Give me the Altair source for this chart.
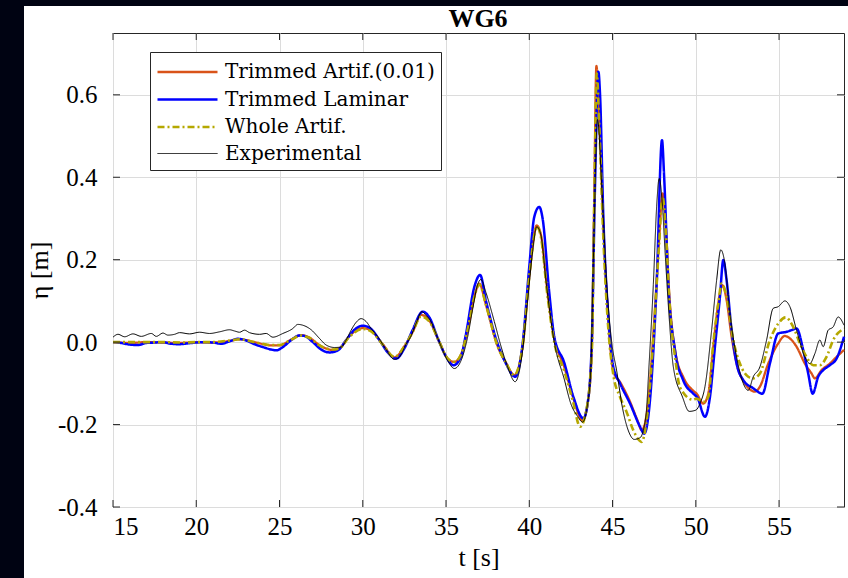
import altair as alt
import pandas as pd

# ---------------- data ----------------
series_names = ["Trimmed Artif.(0.01)", "Trimmed Laminar", "Whole Artif.", "Experimental"]
series_colors = ["#D95319", "#0000FF", "#B5A800", "#000000"]
series_dash = [[1, 0], [1, 0], [7, 3, 2, 3], [1, 0]]
series_widths = [2.3, 2.5, 2.6, 1.0]

x_ticks = [15, 20, 25, 30, 35, 40, 45, 50, 55]
y_ticks = [-0.4, -0.2, 0.0, 0.2, 0.4, 0.6]
title_text = ["WG6"]

t_orange = [15.0, 16.0, 17.0, 18.0, 19.0, 20.0, 21.0, 22.0, 22.6, 23.5, 24.5, 25.0, 25.7, 26.3, 26.7,
            27.5, 28.2, 28.6, 29.2, 30.0, 30.5, 31.2, 31.9, 32.5, 33.0, 33.5, 34.0, 34.6, 35.1, 35.5,
            35.9, 36.3, 36.7, 37.0, 37.4, 38.1, 38.6, 39.1, 39.6, 40.0, 40.45, 40.7, 41.1, 41.5, 42.1,
            42.6, 43.2, 43.5, 43.75, 43.9, 44.03, 44.2, 44.45, 44.75, 45.05, 45.5, 46.0, 46.5, 46.75,
            47.1, 47.5, 47.8, 48.0, 48.2, 48.4, 48.8, 49.25, 49.85, 50.05, 50.45, 50.75, 51.05, 51.35,
            51.6, 51.85, 52.15, 52.45, 52.95, 53.55, 53.85, 54.35, 54.95, 55.35, 55.65, 56.05, 56.55,
            56.95, 57.15, 57.55, 58.05, 58.45, 58.9]
eta_orange = [0.0, -0.002, 0.0, -0.001, -0.002, 0.0, -0.001, 0.003, 0.007, 0.0, -0.008, -0.008, 0.006,
              0.017, 0.013, -0.010, -0.019, -0.015, 0.015, 0.034, 0.028, -0.005, -0.037, -0.010, 0.025,
              0.066, 0.052, 0.0, -0.040, -0.048, -0.030, 0.03, 0.11, 0.142, 0.09, -0.01, -0.05, -0.08,
              -0.01, 0.16, 0.283, 0.26, 0.12, 0.01, -0.06, -0.13, -0.19, -0.15, -0.02, 0.35, 0.67, 0.55,
              0.28, 0.05, -0.07, -0.10, -0.14, -0.19, -0.214, -0.16, 0.05, 0.25, 0.361, 0.28, 0.12, -0.03,
              -0.085, -0.118, -0.125, -0.149, -0.125, -0.011, 0.094, 0.138, 0.102, 0.013, -0.052, -0.10,
              -0.12, -0.108, -0.052, -0.003, 0.015, 0.009, -0.011, -0.052, -0.076, -0.088, -0.068, -0.052,
              -0.036, -0.019]

t_blue = [15.0, 15.5, 16.0, 16.5, 17.0, 17.5, 18.0, 18.5, 19.0, 19.5, 20.0, 20.5, 21.0, 21.5, 22.0, 22.5,
          23.0, 23.5, 24.0, 24.5, 24.8, 25.2, 25.7, 26.2, 26.5, 27.0, 27.5, 28.0, 28.5, 29.0, 29.5, 30.0,
          30.5, 31.0, 31.5, 32.0, 32.5, 33.0, 33.6, 34.0, 34.5, 35.0, 35.45, 35.9, 36.2, 36.7, 37.05, 37.4,
          38.1, 38.6, 39.15, 39.6, 40.0, 40.3, 40.6, 40.8, 41.2, 41.5, 42.1, 42.65, 43.25, 43.5, 43.75,
          43.95, 44.15, 44.25, 44.45, 44.75, 45.05, 45.45, 46.05, 46.65, 46.9, 47.25, 47.65, 47.97, 48.1,
          48.35, 48.75, 49.25, 49.85, 50.1, 50.55, 50.85, 51.15, 51.45, 51.65, 51.85, 52.15, 52.45, 52.85,
          53.45, 54.0, 54.45, 54.95, 55.45, 55.75, 56.05, 56.45, 56.75, 57.02, 57.35, 57.65, 58.05, 58.45,
          58.9]
eta_blue = [0.0, -0.002, -0.006, -0.007, -0.002, -0.001, 0.0, -0.004, -0.005, -0.003, -0.001, 0.0, -0.001,
            -0.004, 0.002, 0.008, 0.004, -0.005, -0.012, -0.018, -0.020, -0.012, 0.005, 0.016, 0.015, 0.0,
            -0.018, -0.025, -0.020, 0.005, 0.03, 0.040, 0.032, 0.005, -0.025, -0.040, -0.015, 0.030, 0.074,
            0.060, 0.010, -0.035, -0.056, -0.035, 0.02, 0.134, 0.163, 0.10, -0.004, -0.052, -0.084, -0.004,
            0.183, 0.304, 0.328, 0.30, 0.12, 0.013, -0.05, -0.133, -0.185, -0.15, -0.004, 0.385, 0.656, 0.60,
            0.30, 0.06, -0.06, -0.10, -0.149, -0.205, -0.222, -0.14, 0.142, 0.49, 0.40, 0.142, -0.02, -0.093,
            -0.125, -0.135, -0.181, -0.133, -0.011, 0.11, 0.199, 0.15, 0.029, -0.052, -0.092, -0.112, -0.125,
            -0.052, 0.021, 0.025, 0.029, 0.033, -0.019, -0.076, -0.125, -0.084, -0.068, -0.056, -0.04, 0.013]

t_olive = [15.0, 16.0, 17.0, 18.0, 19.0, 20.0, 21.0, 22.0, 22.6, 23.5, 24.5, 25.0, 25.7, 26.3, 26.7,
           27.5, 28.2, 28.6, 29.2, 30.0, 30.5, 31.2, 31.9, 32.5, 33.0, 33.5, 34.0, 34.6, 35.1, 35.5,
           35.9, 36.3, 36.7, 37.0, 37.4, 38.1, 38.6, 39.1, 39.6, 40.0, 40.45, 40.7, 41.1, 41.5, 42.1,
           42.6, 43.05, 43.4, 43.75, 43.9, 44.05, 44.2, 44.45, 44.75, 45.05, 45.45, 45.85, 46.25, 46.75,
           47.1, 47.5, 47.8, 48.0, 48.2, 48.4, 48.8, 49.05, 49.85, 50.05, 50.45, 50.75, 51.05, 51.35,
           51.55, 51.85, 52.25, 52.65, 53.15, 53.45, 53.85, 54.45, 54.95, 55.4, 55.85, 56.25, 56.65,
           57.05, 57.45, 57.85, 58.25, 58.9]
eta_olive = [0.0, 0.0, 0.0, 0.0, -0.001, 0.0, 0.0, 0.004, 0.007, 0.0, -0.007, -0.007, 0.006, 0.016, 0.012,
             -0.010, -0.018, -0.015, 0.013, 0.032, 0.026, -0.006, -0.036, -0.010, 0.025, 0.062, 0.050, 0.0,
             -0.040, -0.048, -0.030, 0.03, 0.11, 0.140, 0.09, -0.01, -0.05, -0.08, -0.01, 0.16, 0.280, 0.255,
             0.11, 0.0, -0.07, -0.14, -0.205, -0.17, -0.03, 0.33, 0.652, 0.53, 0.25, 0.03, -0.08, -0.133,
             -0.17, -0.214, -0.242, -0.17, 0.04, 0.24, 0.353, 0.27, 0.11, -0.05, -0.11, -0.14, -0.137,
             -0.145, -0.133, -0.003, 0.094, 0.142, 0.11, 0.005, -0.052, -0.084, -0.088, -0.076, 0.005,
             0.045, 0.060, 0.037, -0.003, -0.036, -0.056, -0.056, -0.036, 0.005, 0.033]

t_exp = [15.0, 15.3, 15.7, 16.2, 16.7, 17.3, 17.6, 18.0, 18.3, 18.7, 19.0, 19.6, 20.2, 20.8, 21.4, 22.0,
         22.3, 22.6, 22.9, 23.2, 23.8, 24.2, 24.6, 25.2, 25.8, 26.1, 26.4, 26.9, 27.4, 27.8, 28.3, 28.7,
         29.0, 29.3, 29.6, 29.9, 30.2, 30.5, 30.9, 31.4, 31.9, 32.2, 32.6, 32.9, 33.2, 33.55, 33.8, 34.1,
         34.4, 34.7, 35.1, 35.5, 35.9, 36.3, 36.6, 36.9, 37.1, 37.4, 37.9, 38.3, 38.7, 39.15, 39.6, 39.9,
         40.2, 40.45, 40.7, 41.0, 41.5, 42.1, 42.5, 42.9, 43.2, 43.5, 43.7, 43.85, 44.1, 44.35, 44.65,
         44.95, 45.25, 45.6, 46.0, 46.3, 46.65, 47.0, 47.2, 47.45, 47.65, 47.8, 48.0, 48.15, 48.4, 48.65,
         49.2, 49.6, 50.0, 50.25, 50.55, 50.95, 51.25, 51.5, 51.75, 52.05, 52.45, 52.85, 53.15, 53.45,
         53.85, 54.25, 54.65, 54.95, 55.35, 55.65, 56.05, 56.55, 56.85, 57.15, 57.45, 57.65, 57.95, 58.25,
         58.55, 58.9]
eta_exp = [0.012, 0.019, 0.013, 0.020, 0.014, 0.021, 0.014, 0.022, 0.017, 0.019, 0.023, 0.020, 0.024,
           0.021, 0.025, 0.030, 0.027, 0.024, 0.029, 0.023, 0.019, 0.021, 0.012, 0.021, 0.033, 0.043, 0.041,
           0.030, 0.009, -0.007, -0.013, -0.012, 0.005, 0.029, 0.048, 0.057, 0.050, 0.033, 0.013, -0.018,
           -0.042, -0.036, -0.005, 0.015, 0.045, 0.074, 0.065, 0.050, 0.020, -0.010, -0.045, -0.064, -0.045,
           0.013, 0.08, 0.14, 0.152, 0.12, 0.05, -0.01, -0.06, -0.096, -0.02, 0.10, 0.22, 0.28, 0.26, 0.15,
           0.0, -0.09, -0.15, -0.18, -0.194, -0.15, -0.06, 0.20, 0.54, 0.38, 0.14, 0.0, -0.07, -0.16, -0.22,
           -0.236, -0.232, -0.18, -0.05, 0.14, 0.33, 0.397, 0.33, 0.223, 0.06, -0.06, -0.133, -0.168, -0.165,
           -0.149, -0.108, 0.029, 0.15, 0.224, 0.19, 0.069, -0.036, -0.10, -0.117, -0.084, -0.06, 0.005,
           0.082, 0.086, 0.10, 0.086, 0.029, -0.036, -0.052, -0.028, 0.005, -0.011, 0.029, 0.037, 0.061, 0.041]

# ---------------- build table ----------------
frames = []
for name, tt, ee in zip(series_names, [t_orange, t_blue, t_olive, t_exp],
                        [eta_orange, eta_blue, eta_olive, eta_exp]):
    frames.append(pd.DataFrame({"t": tt, "eta": ee, "series": name}))
df = pd.concat(frames, ignore_index=True)

W, H = 731, 474
FONT = "Liberation Serif"
LFONT = "DejaVu Serif"
DARK = "#000312"

x_scale = alt.Scale(domain=[15, 58.9], nice=False, zero=False)
y_scale = alt.Scale(domain=[-0.4, 0.75], nice=False, zero=False)

x_enc = alt.X("t:Q", scale=x_scale, title="t [s]",
              axis=alt.Axis(values=x_ticks, format="d", grid=True, ticks=False, domain=False,
                            labelPadding=7, titlePadding=5))
y_enc = alt.Y("eta:Q", scale=y_scale, title="η [m]",
              axis=alt.Axis(values=y_ticks, grid=True, ticks=False, domain=False, labelPadding=16,
                            titlePadding=5,
                            labelExpr="replace(format(datum.value, '.1f'), '\u2212', '-')"))

legend = alt.Legend(
    title=None, orient="none", legendX=37, legendY=19,
    symbolType="M-1,0L3.8,0", symbolSize=625,
    labelFont=LFONT, labelFontSize=20, labelColor="black",
    labelLimit=400, fillColor="white", strokeColor="#262626",
    padding=6, rowPadding=3.5, labelOffset=41,
)
color_enc = alt.Color("series:N", scale=alt.Scale(domain=series_names, range=series_colors),
                      legend=legend)
dash_enc = alt.StrokeDash("series:N", scale=alt.Scale(domain=series_names, range=series_dash),
                          legend=legend)
width_enc = alt.StrokeWidth("series:N",
                            scale=alt.Scale(type="ordinal", domain=series_names, range=series_widths),
                            legend=legend)

line_layers = []
for n in series_names:
    line_layers.append(
        alt.Chart(df).mark_line(interpolate="monotone").encode(
            x=x_enc, y=y_enc, color=color_enc, strokeDash=dash_enc, strokeWidth=width_enc
        ).transform_filter(alt.datum.series == n)
    )

xt = pd.DataFrame({"t": x_ticks})
yt = pd.DataFrame({"eta": y_ticks})
tick_style = dict(color="#262626", strokeWidth=1)
tick_layers = [
    alt.Chart(xt).mark_rule(**tick_style).encode(x=alt.X("t:Q", scale=x_scale), y=alt.value(H - 7), y2=alt.value(H)),
    alt.Chart(xt).mark_rule(**tick_style).encode(x=alt.X("t:Q", scale=x_scale), y=alt.value(0), y2=alt.value(7)),
    alt.Chart(yt).mark_rule(**tick_style).encode(y=alt.Y("eta:Q", scale=y_scale), x=alt.value(0), x2=alt.value(7)),
    alt.Chart(yt).mark_rule(**tick_style).encode(y=alt.Y("eta:Q", scale=y_scale), x=alt.value(W - 7), x2=alt.value(W)),
]

one = pd.DataFrame({"a": [0]})
frame_layers = [
    alt.Chart(one).mark_rect(color=DARK, clip=False).encode(
        x=alt.value(-113), x2=alt.value(-89), y=alt.value(-33), y2=alt.value(H + 71)),
    alt.Chart(one).mark_rect(color=DARK, clip=False).encode(
        x=alt.value(-113), x2=alt.value(W + 4), y=alt.value(-33), y2=alt.value(-27)),
]

title_layer = alt.Chart(pd.DataFrame({"label": title_text})).mark_text(
    font=FONT, fontSize=26, fontWeight="bold", color="black", align="center",
    baseline="alphabetic", clip=False
).encode(text="label:N", x=alt.value(W / 2 - 0.5), y=alt.value(-6))

chart = alt.layer(*frame_layers, *line_layers, *tick_layers, title_layer).properties(
    width=W, height=H,
    autosize=alt.AutoSizeParams(type="none"),
    padding={"left": 113, "top": 33, "right": 4, "bottom": 71},
    background="white",
).configure_view(
    stroke="#262626", strokeWidth=1, fill="white"
).configure_axis(
    labelFont=FONT, labelFontSize=25, labelColor="black",
    titleFont=FONT, titleFontSize=26, titleColor="black", titleFontWeight="normal",
    gridColor="#dcdcdc", gridWidth=1,
)

chart.save("out.html", embed_options={"renderer": "svg", "actions": False})
